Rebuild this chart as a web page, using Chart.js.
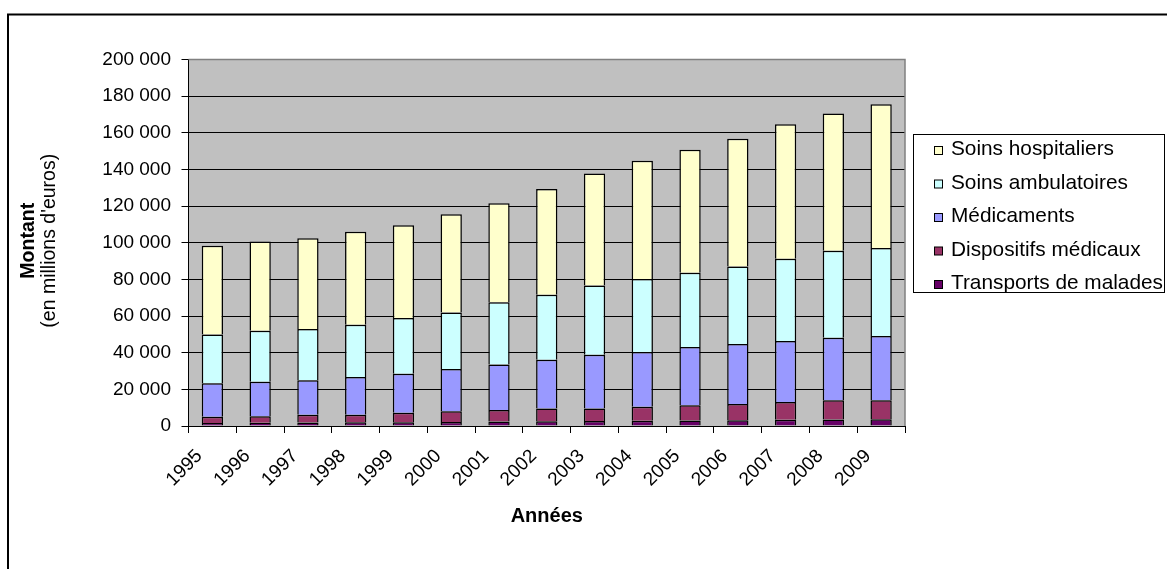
<!DOCTYPE html>
<html lang="fr">
<head>
<meta charset="utf-8">
<title>Dépenses de santé 1995-2009</title>
<script src="https://cdn.jsdelivr.net/npm/chart.js@4.4.1/dist/chart.umd.min.js"></script>
<style>
  html, body { margin: 0; padding: 0; background: #fff; }
  #graphique { display: block; }
</style>
</head>
<body>
<canvas id="graphique" width="1167" height="569"></canvas>
<script>
// Montants en millions d'euros, du bas de la pile vers le haut
const annees = ['1995', '1996', '1997', '1998', '1999', '2000', '2001', '2002',
                '2003', '2004', '2005', '2006', '2007', '2008', '2009'];
const transports   = [1700, 1800, 1900, 2000, 2100, 2200, 2400, 2600, 2700, 2900, 3000, 3200, 3400, 3600, 3700];
const dispositifs  = [3400, 3500, 4200, 4200, 5100, 5800, 6300, 6900, 6800, 7600, 8300, 8800, 9700, 10400, 10400];
const medicaments  = [18200, 18900, 18800, 20500, 21300, 23100, 24900, 26600, 29400, 29900, 31800, 32700, 33300, 34200, 35000];
const ambulatoires = [26700, 27800, 28000, 28500, 30400, 30900, 33900, 35500, 37800, 39800, 40500, 42400, 44900, 47400, 48100];
const hospitaliers = [48300, 48700, 49600, 50800, 50600, 53500, 54000, 57700, 61100, 64500, 67100, 69600, 73400, 74900, 78400];

const yMax = 200000;
const yPas = 20000;

const police = 'Arial, "Liberation Sans", Helvetica, sans-serif';
Chart.defaults.font.family = police;
Chart.defaults.color = '#000';

// 200000 -> "200 000"
function espaceMilliers(v) {
  return String(v).replace(/\B(?=(\d{3})+(?!\d))/g, ' ');
}

const series = [
  { label: 'Transports de malades', data: transports,   couleur: '#660066' },
  { label: 'Dispositifs médicaux',  data: dispositifs,  couleur: '#993366' },
  { label: 'Médicaments',           data: medicaments,  couleur: '#9999FF' },
  { label: 'Soins ambulatoires',    data: ambulatoires, couleur: '#CCFFFF' },
  { label: 'Soins hospitaliers',    data: hospitaliers, couleur: '#FFFFCC' },
];

// cadre, fond gris, titre vertical et légende encadrée
const cadre = {
  id: 'cadre',
  beforeDraw(chart) {
    const { ctx, chartArea: a } = chart;
    ctx.save();
    ctx.strokeStyle = '#000';
    ctx.lineWidth = 2;
    ctx.strokeRect(8, 14.5, chart.width + 20, chart.height + 20);
    ctx.fillStyle = '#C0C0C0';
    ctx.fillRect(a.left, a.top, a.right - a.left, a.bottom - a.top);
    ctx.restore();
  },
  afterDraw(chart) {
    const { ctx, chartArea: a } = chart;

    ctx.save();
    ctx.strokeStyle = '#808080';
    ctx.lineWidth = 1.5;
    ctx.beginPath();
    ctx.moveTo(a.left, a.top);
    ctx.lineTo(a.right, a.top);
    ctx.lineTo(a.right, a.bottom);
    ctx.stroke();
    ctx.restore();

    // titre de l'axe des montants, deux lignes
    const cy = (a.top + a.bottom) / 2 - 2;
    ctx.save();
    ctx.fillStyle = '#000';
    ctx.textAlign = 'center';
    ctx.textBaseline = 'alphabetic';
    ctx.translate(33.5, cy);
    ctx.rotate(-Math.PI / 2);
    ctx.font = 'bold 19.5px ' + police;
    ctx.fillText('Montant', 0, 0);
    ctx.font = '19.5px ' + police;
    ctx.fillText("(en millions d'euros)", 0, 21);
    ctx.restore();

    // légende
    const bx = 913.5, by = 134.5, bw = 251, bh = 158;
    ctx.save();
    ctx.fillStyle = '#fff';
    ctx.fillRect(bx, by, bw, bh);
    ctx.strokeStyle = '#000';
    ctx.lineWidth = 1;
    ctx.strokeRect(bx, by, bw, bh);
    ctx.font = '20.8px ' + police;
    ctx.textAlign = 'left';
    ctx.textBaseline = 'alphabetic';
    chart.data.datasets.slice().reverse().forEach((ds, i) => {
      const base = 155 + i * 33.5;
      ctx.fillStyle = ds.backgroundColor;
      ctx.fillRect(934.5, base - 8.5, 8, 8);
      ctx.strokeRect(934.5, base - 8.5, 8, 8);
      ctx.fillStyle = '#000';
      ctx.fillText(ds.label, 951, base);
    });
    ctx.restore();
  }
};

new Chart(document.getElementById('graphique'), {
  type: 'bar',
  data: {
    labels: annees,
    datasets: series.map(s => ({
      label: s.label,
      data: s.data,
      backgroundColor: s.couleur,
      borderColor: '#000',
      borderWidth: 1.5,
      barPercentage: 0.446,
      categoryPercentage: 1
    }))
  },
  options: {
    responsive: false,
    animation: false,
    devicePixelRatio: 1,
    layout: { padding: { left: 0, top: 59.5, right: 262, bottom: 0 } },
    plugins: {
      legend: { display: false },
      tooltip: { enabled: false }
    },
    scales: {
      x: {
        stacked: true,
        grid: { offset: true, drawOnChartArea: false, color: '#000', tickLength: 7 },
        border: { color: '#000', width: 1 },
        ticks: {
          autoSkip: false,
          minRotation: 45,
          maxRotation: 45,
          padding: 12,
          labelOffset: -13,
          color: '#000',
          font: { size: 19 }
        },
        title: {
          display: true,
          text: 'Années',
          color: '#000',
          font: { size: 20, weight: 'bold' },
          padding: { top: 0, bottom: 41 }
        },
        afterFit: s => { s.height = 143; }
      },
      y: {
        stacked: true,
        min: 0,
        max: yMax,
        ticks: {
          stepSize: yPas,
          padding: 10.5,
          color: '#000',
          font: { size: 19 },
          callback: v => espaceMilliers(v)
        },
        grid: { color: '#000', tickLength: 7 },
        border: { color: '#000', width: 1 },
        afterFit: s => { s.width = 188.5; }
      }
    }
  },
  plugins: [cadre]
});
</script>
</body>
</html>
